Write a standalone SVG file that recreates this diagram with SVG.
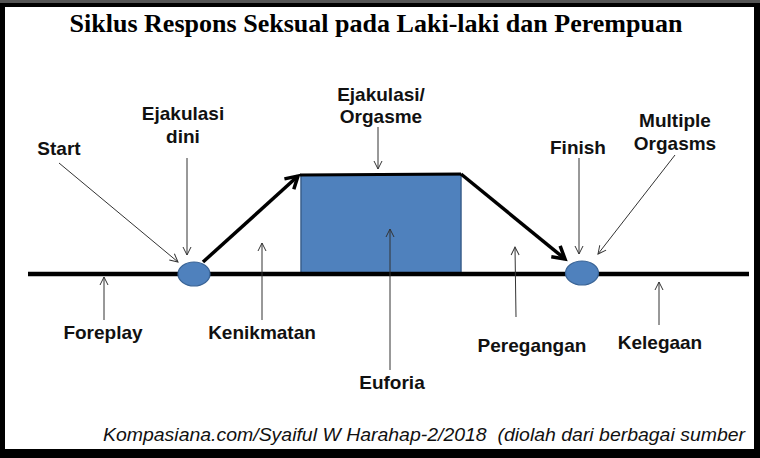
<svg xmlns="http://www.w3.org/2000/svg" width="760" height="458" viewBox="0 0 760 458">
<style>
.lbl{font-family:"Liberation Sans",Arial,sans-serif;font-weight:bold;font-size:19px;fill:#111;text-anchor:middle}
.thin{stroke:#333;stroke-width:1;fill:none}
.thick{stroke:#000;stroke-width:3.5;fill:none}
.dot{fill:#4f81bd;stroke:#3a6496;stroke-width:1.2}
</style>
<defs>
<marker id="ah" markerUnits="userSpaceOnUse" markerWidth="20" markerHeight="20" viewBox="-10 -10 20 20" refX="0" refY="0" orient="auto">
<path d="M-8,-4 L0,0 L-8,4" fill="none" stroke="#333" stroke-width="1"/>
</marker>
<marker id="ahk" markerUnits="userSpaceOnUse" markerWidth="30" markerHeight="30" viewBox="-15 -15 30 30" refX="0" refY="0" orient="auto">
<path d="M-12,-7 L0,0 L-12,7" fill="none" stroke="#000" stroke-width="3.5" stroke-linejoin="miter"/>
</marker>
</defs>
<rect x="0" y="0" width="760" height="458" fill="#000"/>
<rect x="0" y="0" width="760" height="3" fill="#555"/>
<rect x="5" y="7" width="749" height="442" fill="#fff"/>
<text x="376" y="32" font-family="'Liberation Serif','Times New Roman',serif" font-weight="bold" font-size="25" textLength="613" lengthAdjust="spacingAndGlyphs" text-anchor="middle" fill="#000">Siklus Respons Seksual pada Laki-laki dan Perempuan</text>
<g id="euforia-box">
<rect x="301" y="175" width="160" height="99" fill="#4f81bd" stroke="#3a5f8c" stroke-width="1.5"/>
</g>
<g id="connectors">
<path d="M28 274 H749" stroke="#000" stroke-width="4.5"/>
<path class="thick" d="M203 262 L298 176" marker-end="url(#ahk)"/>
<path d="M300 175 L461 174" stroke="#000" stroke-width="3"/>
<path class="thick" d="M461 174 L565 259" marker-end="url(#ahk)"/>
<path class="thin" d="M59 163 L178 262" marker-end="url(#ah)"/>
<path class="thin" d="M187 158 L187 255" marker-end="url(#ah)"/>
<path class="thin" d="M378 127 L378 169" marker-end="url(#ah)"/>
<path class="thin" d="M390 370 L390 229" marker-end="url(#ah)"/>
<path class="thin" d="M262 320 L262 243" marker-end="url(#ah)"/>
<path class="thin" d="M104 320 L104 277" marker-end="url(#ah)"/>
<path class="thin" d="M516 317 L515 247" marker-end="url(#ah)"/>
<path class="thin" d="M659 325 L659 282" marker-end="url(#ah)"/>
<path class="thin" d="M579 158 L579 254" marker-end="url(#ah)"/>
<path class="thin" d="M675 155 L598 254" marker-end="url(#ah)"/>
</g>
<g id="node-start-dot"><ellipse class="dot" cx="194" cy="274" rx="16" ry="12"/></g>
<g id="node-finish-dot"><ellipse class="dot" cx="582" cy="273" rx="16.5" ry="12"/></g>
<g id="label-start"><text class="lbl" x="59" y="155">Start</text></g>
<g id="label-ejakulasi-dini"><text class="lbl" x="183" y="120">Ejakulasi</text><text class="lbl" x="183" y="143">dini</text></g>
<g id="label-orgasme"><text class="lbl" x="381" y="101">Ejakulasi/</text><text class="lbl" x="381" y="123">Orgasme</text></g>
<g id="label-finish"><text class="lbl" x="578" y="154">Finish</text></g>
<g id="label-multiple"><text class="lbl" x="675" y="127">Multiple</text><text class="lbl" x="675" y="150">Orgasms</text></g>
<g id="label-foreplay"><text class="lbl" x="103" y="339">Foreplay</text></g>
<g id="label-kenikmatan"><text class="lbl" x="262" y="339">Kenikmatan</text></g>
<g id="label-euforia"><text class="lbl" x="392" y="389">Euforia</text></g>
<g id="label-peregangan"><text class="lbl" x="532" y="352">Peregangan</text></g>
<g id="label-kelegaan"><text class="lbl" x="660" y="349">Kelegaan</text></g>
<text x="103" y="441" xml:space="preserve" font-family="'Liberation Sans',Arial,sans-serif" font-style="italic" font-size="19" textLength="642" lengthAdjust="spacingAndGlyphs" fill="#111">Kompasiana.com/Syaiful W Harahap-2/2018  (diolah dari berbagai sumber</text>
</svg>
